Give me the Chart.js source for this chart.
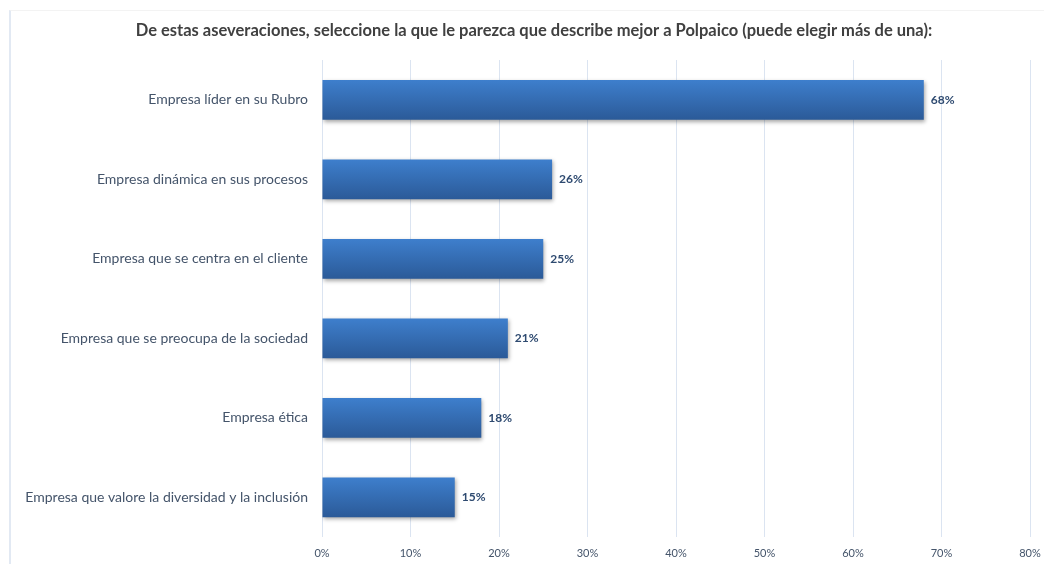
<!DOCTYPE html>
<html>
<head>
<meta charset="utf-8">
<script src="https://cdn.jsdelivr.net/npm/chart.js@4/dist/chart.umd.min.js"></script>
<style>
  html, body { margin: 0; padding: 0; background: #fff; }
  #wrap { position: relative; width: 1044px; height: 564px; }
  #frame { position: absolute; left: 9px; top: 10px; right: 0; bottom: 0;
           border-left: 2px solid #e2e9f3; border-top: 1px solid #f3f3f3; }
  canvas { position: absolute; left: 0; top: 0; }
</style>
</head>
<body>
<div id="wrap">
  <div id="frame"></div>
  <canvas id="myChart" width="1044" height="564"></canvas>
</div>
<script>
const categories = [
  'Empresa líder en su Rubro',
  'Empresa dinámica en sus procesos',
  'Empresa que se centra en el cliente',
  'Empresa que se preocupa de la sociedad',
  'Empresa ética',
  'Empresa que valore la diversidad y la inclusión'
];
const values = [68, 26, 25, 21, 18, 15];
const tickMax = 80;
const tickStep = 10;
const chartTitle = 'De estas aseveraciones, seleccione la que le parezca que describe mejor a Polpaico (puede elegir más de una):';

document.addEventListener('DOMContentLoaded', function() {
  const ctx = document.getElementById('myChart');

  // degradado vertical en cada barra
  function barGradient(c) {
    const chart = c.chart;
    const y = chart.scales.y;
    if (!y || c.dataIndex === undefined) return '#3571bb';
    const cy = y.getPixelForValue(c.dataIndex);
    if (!Number.isFinite(cy)) return '#3571bb';
    const g = chart.ctx.createLinearGradient(0, cy - 20, 0, cy + 20);
    g.addColorStop(0, '#3e7fcd');
    g.addColorStop(1, '#2b5a98');
    return g;
  }

  const shadowPlugin = {
    id: 'shadow',
    beforeDatasetsDraw(chart) {
      const c = chart.ctx;
      c.save();
      c.shadowColor = 'rgba(0,0,0,0.35)';
      c.shadowBlur = 4;
      c.shadowOffsetX = 1;
      c.shadowOffsetY = 2;
    },
    afterDatasetsDraw(chart) {
      chart.ctx.restore();
    }
  };

  const labelPlugin = {
    id: 'valueLabels',
    afterDatasetsDraw(chart) {
      const c = chart.ctx;
      const meta = chart.getDatasetMeta(0);
      c.save();
      c.font = 'bold 12px Lato';
      c.fillStyle = '#2e4a70';
      c.textAlign = 'left';
      c.textBaseline = 'middle';
      meta.data.forEach(function(bar, i) {
        c.fillText(values[i] + '%', bar.x + 7, bar.y);
      });
      c.restore();
    }
  };

  // el título va un poco a la derecha del centro, como en el original
  const titlePlugin = {
    id: 'offsetTitle',
    afterDraw(chart) {
      const c = chart.ctx;
      c.save();
      c.font = 'bold 16.5px Lato';
      c.fillStyle = '#404040';
      c.textAlign = 'center';
      c.textBaseline = 'middle';
      c.fillText(chartTitle, 534, 31);
      c.restore();
    }
  };

  new Chart(ctx, {
    type: 'bar',
    data: {
      labels: categories,
      datasets: [{
        data: values,
        backgroundColor: barGradient,
        borderWidth: 0,
        barPercentage: 0.5,
        categoryPercentage: 1
      }]
    },
    options: {
      indexAxis: 'y',
      responsive: false,
      animation: false,
      layout: { padding: { left: 0, right: 14, top: 60, bottom: 0 } },
      plugins: {
        legend: { display: false },
        tooltip: { enabled: false },
        title: { display: false }
      },
      scales: {
        x: {
          min: 0,
          max: tickMax,
          afterFit: function(scale) {
            scale.height = 27;
            scale.paddingRight = 0;
            scale.paddingLeft = 0;
          },
          ticks: {
            stepSize: tickStep,
            color: '#44546a',
            font: { family: 'Lato', size: 11 },
            padding: 10,
            callback: function(v) { return v + '%'; }
          },
          grid: { color: '#dbe4f1', drawTicks: false },
          border: { display: false }
        },
        y: {
          afterFit: function(scale) { scale.width = 322; },
          ticks: {
            color: '#44546a',
            font: { family: 'Lato', size: 14 },
            padding: 14
          },
          grid: { display: false, drawTicks: false },
          border: { display: false }
        }
      }
    },
    plugins: [shadowPlugin, labelPlugin, titlePlugin]
  });
});
</script>
</body>
</html>
